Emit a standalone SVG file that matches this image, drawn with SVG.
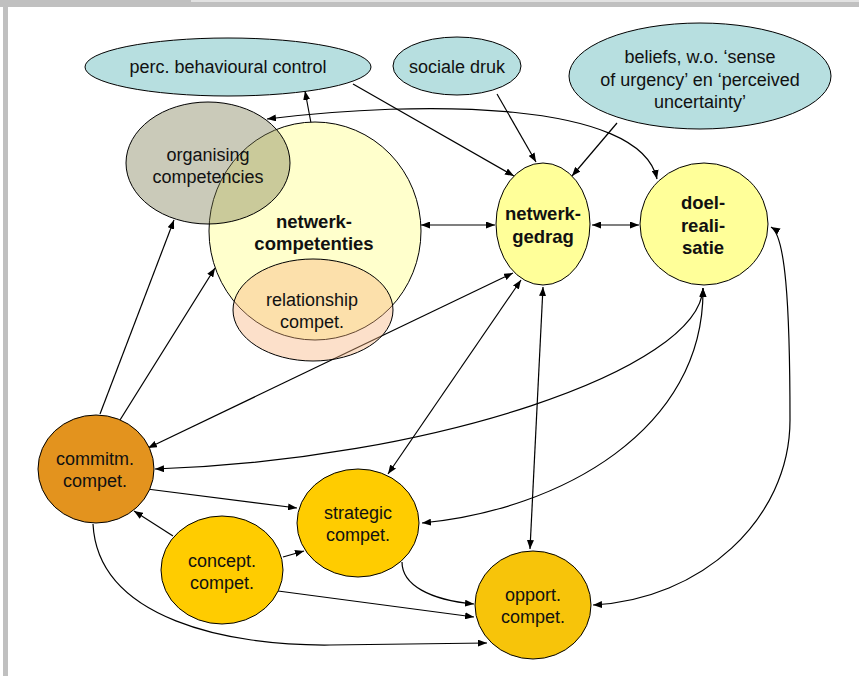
<svg xmlns="http://www.w3.org/2000/svg" width="859" height="676" viewBox="0 0 859 676">
<style>
.t{font-family:"Liberation Sans",Arial,sans-serif;font-size:18px;fill:#111;text-anchor:middle}
.b{font-weight:bold;font-size:18.5px}
.n{stroke:#000;stroke-width:1}
.c{fill:none;stroke:#000;stroke-width:1.2}
.e{marker-end:url(#ah)}
.s{marker-start:url(#ah);marker-end:url(#ah)}
</style>
<defs>
<marker id="ah" markerUnits="userSpaceOnUse" markerWidth="9" markerHeight="7" viewBox="0 0 9 7" refX="9" refY="3.5" orient="auto-start-reverse">
<path d="M0,0 L9,3.5 L0,7 z" fill="#000"/>
</marker>
</defs>
<rect x="0" y="0" width="859" height="676" fill="#fff"/>
<rect x="0" y="0" width="859" height="7" fill="#c0c0c0"/>
<rect x="191" y="0" width="668" height="2" fill="#e2e2e2"/>
<rect x="3" y="0" width="5" height="676" fill="#c0c0c0"/>

<g id="connectors">
<path class="c e" d="M311 123 L305 91"/>
<path class="c e" d="M353 84 L514 176"/>
<path class="c e" d="M497 94 L536 162"/>
<path class="c e" d="M617 123 L572 176"/>
<path class="c s" d="M267 119 C420 100 640 100 657 179"/>
<path class="c s" d="M421 225 L495 225"/>
<path class="c s" d="M592 225 L639 225"/>
<path class="c e" d="M100 414 L174 220"/>
<path class="c e" d="M120 420 L215 268"/>
<path class="c s" d="M148 448 L513 273"/>
<path class="c s" d="M388 474 L521 280"/>
<path class="c s" d="M530 549 L543 287"/>
<path class="c s" d="M703 288 C700 370 430 460 155 469"/>
<path class="c s" d="M703 288 C705 430 560 510 422 523"/>
<path class="c s" d="M771 227 C785 235 790 300 790 420 C790 520 700 600 593 605"/>
<path class="c e" d="M147 489 L297 508"/>
<path class="c e" d="M173 536 L134 511"/>
<path class="c e" d="M283 557 L304 551"/>
<path class="c e" d="M278 591 L474 617"/>
<path class="c e" d="M402 562 C402 585 430 600 474 604"/>
<path class="c e" d="M93 524 C98 620 230 646 330 645 L487 643"/>
</g>

<g id="perc">
<ellipse class="n" cx="228" cy="67" rx="143" ry="29" fill="#b7dfe0"/>
<text class="t" x="228" y="73">perc. behavioural control</text>
</g>
<g id="sociale">
<ellipse class="n" cx="457" cy="66" rx="64" ry="29" fill="#b7dfe0"/>
<text class="t" x="457" y="73">sociale druk</text>
</g>
<g id="beliefs">
<ellipse class="n" cx="700" cy="76" rx="131" ry="53" fill="#b7dfe0"/>
<text class="t" x="700" y="63">beliefs, w.o. ‘sense</text>
<text class="t" x="700" y="86">of urgency’ en ‘perceived</text>
<text class="t" x="700" y="108">uncertainty’</text>
</g>
<g id="netwerkcompetenties">
<ellipse class="n" cx="315" cy="231" rx="106" ry="109" fill="#ffffcc"/>
</g>
<g id="organising">
<ellipse class="n" cx="208" cy="163" rx="82" ry="61" fill="#7a7a50" fill-opacity="0.4"/>
<text class="t" x="208" y="161">organising</text>
<text class="t" x="208" y="183">competencies</text>
</g>
<g id="netwerkcompetenties-label">
<text class="t b" x="314" y="228">netwerk-</text>
<text class="t b" x="314" y="250">competenties</text>
</g>
<g id="relationship">
<ellipse class="n" cx="313" cy="310" rx="80" ry="51" fill="#f7b27a" fill-opacity="0.4"/>
<text class="t" x="312" y="306">relationship</text>
<text class="t" x="312" y="328">compet.</text>
</g>
<g id="netwerkgedrag">
<ellipse class="n" cx="543" cy="224" rx="47" ry="61" fill="#ffff99"/>
<text class="t b" x="543" y="220">netwerk-</text>
<text class="t b" x="543" y="243">gedrag</text>
</g>
<g id="doelrealisatie">
<ellipse class="n" cx="704" cy="224" rx="64" ry="61" fill="#ffff99"/>
<text class="t b" x="703" y="209">doel-</text>
<text class="t b" x="703" y="232">reali-</text>
<text class="t b" x="703" y="254">satie</text>
</g>
<g id="commitm">
<ellipse class="n" cx="96" cy="469" rx="58" ry="54" fill="#e3931e"/>
<text class="t" x="95" y="465">commitm.</text>
<text class="t" x="95" y="487">compet.</text>
</g>
<g id="strategic">
<ellipse class="n" cx="358" cy="523" rx="61" ry="54" fill="#ffcc00"/>
<text class="t" x="358" y="519">strategic</text>
<text class="t" x="358" y="541">compet.</text>
</g>
<g id="concept">
<ellipse class="n" cx="222" cy="570" rx="61" ry="54" fill="#ffcc00"/>
<text class="t" x="222" y="567">concept.</text>
<text class="t" x="222" y="589">compet.</text>
</g>
<g id="opport">
<ellipse class="n" cx="533" cy="605" rx="58" ry="54" fill="#f7c40a"/>
<text class="t" x="533" y="601">opport.</text>
<text class="t" x="533" y="623">compet.</text>
</g>
</svg>
